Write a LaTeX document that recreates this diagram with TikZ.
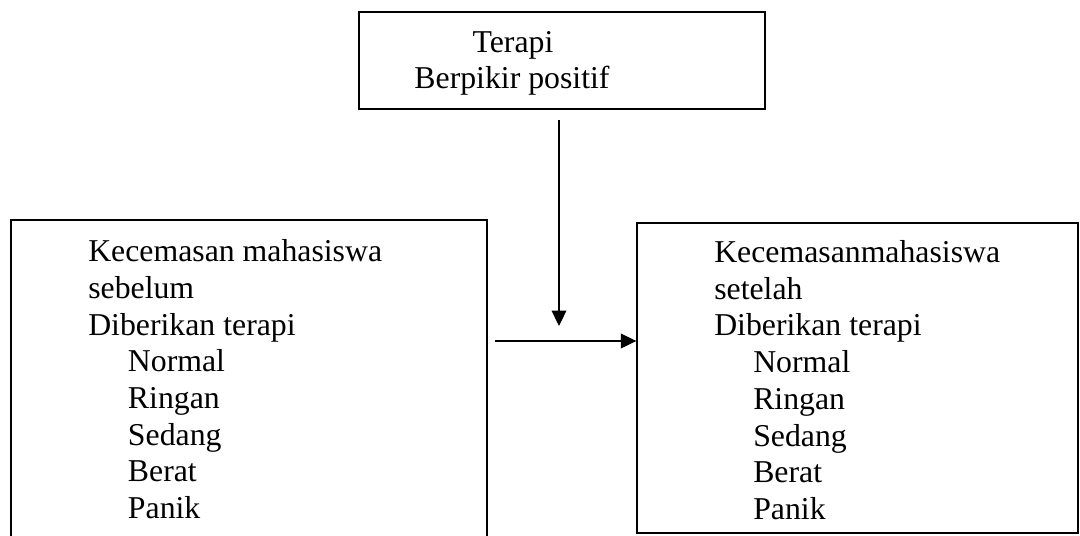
\documentclass[tikz,border=0pt]{standalone}
\usepackage{fontspec}
\setmainfont{Liberation Serif}
\usetikzlibrary{arrows.meta}
\begin{document}
\begin{tikzpicture}[x=0.025cm,y=-0.025cm,
  box/.style={draw,line width=0.9pt,inner sep=0,fill=none},
  txt/.style={anchor=base west,inner sep=0,font=\fontsize{22.6}{26}\selectfont},
  ctxt/.style={anchor=base,inner sep=0,font=\fontsize{22.6}{26}\selectfont},
  arr/.style={line width=0.8pt,-{Triangle[length=11pt,width=10.5pt]}}]
\useasboundingbox (0,0) rectangle (1080,535);
% boxes
\node[box,minimum width=10.15cm,minimum height=2.425cm] (topbox) at (562,60.5) {};
\node[box,minimum width=11.9cm,minimum height=8.5cm] (leftbox) at (249,390) {};
\node[box,minimum width=11.025cm,minimum height=7.75cm] (rightbox) at (857.5,378) {};
% top text
\node[ctxt] (t1) at (513,52) {Terapi};
\node[ctxt] (t2) at (512,88) {Berpikir positif};
% left text
\node[txt] (l1) at (88,261.7) {Kecemasan mahasiswa};
\node[txt] (l2) at (88,298.4) {sebelum};
\node[txt] (l3) at (88,335.1) {Diberikan terapi};
\node[txt] (l4) at (127.7,371.8) {Normal};
\node[txt] (l5) at (127.7,408.5) {Ringan};
\node[txt] (l6) at (127.7,445.2) {Sedang};
\node[txt] (l7) at (127.7,481.9) {Berat};
\node[txt] (l8) at (127.7,518.6) {Panik};
% right text
\node[txt] (r1) at (714,262.5) {Kecemasanmahasiswa};
\node[txt] (r2) at (714,299.2) {setelah};
\node[txt] (r3) at (714,335.9) {Diberikan terapi};
\node[txt] (r4) at (753,372.6) {Normal};
\node[txt] (r5) at (753,409.3) {Ringan};
\node[txt] (r6) at (753,446.0) {Sedang};
\node[txt] (r7) at (753,482.7) {Berat};
\node[txt] (r8) at (753,519.4) {Panik};
% arrows
\coordinate (vstart) at (559,120);
\coordinate (vend) at (559,326);
\coordinate (hstart) at (495,341);
\draw[arr] (vstart) -- (vend);
\draw[arr] (hstart) -- (hstart -| rightbox.west);
\end{tikzpicture}
\end{document}
